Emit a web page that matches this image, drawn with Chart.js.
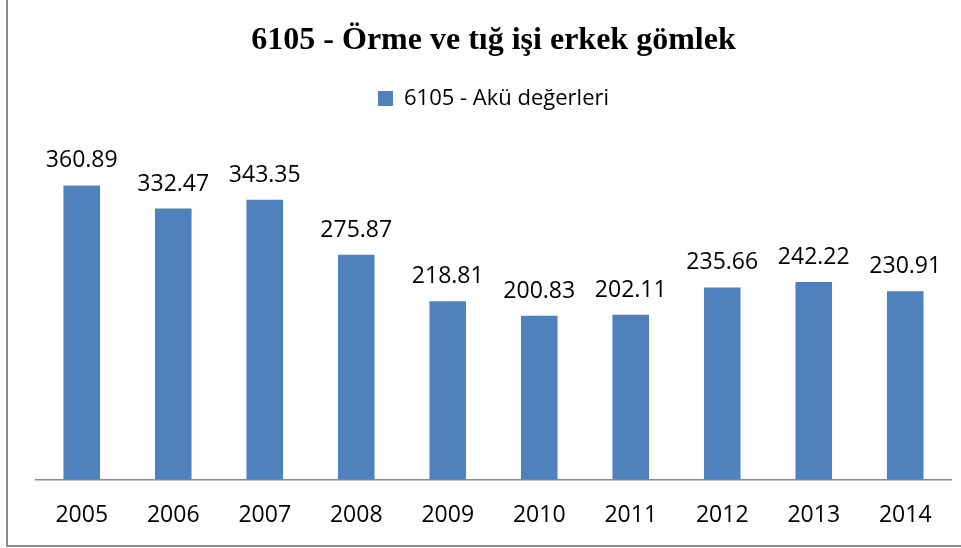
<!DOCTYPE html>
<html>
<head>
<meta charset="utf-8">
<script src="https://cdn.jsdelivr.net/npm/chart.js@4/dist/chart.umd.min.js"></script>
<style>
    body { margin: 0; background: #fff; }
    #frame {
        position: absolute; left: 6px; top: 0;
        width: 955px; height: 545px;
        border-left: 2px solid #8a8a8a;
        border-bottom: 2px solid #8a8a8a;
    }
    #chart { display: block; }
</style>
</head>
<body>
<div id="frame"><canvas id="chart" width="955" height="545"></canvas></div>
<script>
const years = ['2005','2006','2007','2008','2009','2010','2011','2012','2013','2014'];
const values = [360.89, 332.47, 343.35, 275.87, 218.81, 200.83, 202.11, 235.66, 242.22, 230.91];
const seriesName = '6105 - Akü değerleri';
const chartTitle = '6105 - Örme ve tığ işi erkek gömlek';

const barLabels = {
    id: 'barLabels',
    afterDatasetsDraw(chart) {
        const ctx = chart.ctx;
        ctx.save();
        ctx.font = '23px "Open Sans"';
        ctx.fillStyle = '#000';
        ctx.textAlign = 'center';
        ctx.textBaseline = 'alphabetic';
        chart.getDatasetMeta(0).data.forEach((bar, i) => {
            ctx.fillText(values[i].toFixed(2), bar.x, bar.y - 18);
        });
        ctx.restore();
    }
};

new Chart(document.getElementById('chart'), {
    type: 'bar',
    data: {
        labels: years,
        datasets: [{
            label: seriesName,
            data: values,
            backgroundColor: '#4f81bd',
            categoryPercentage: 1,
            barPercentage: 0.4
        }]
    },
    options: {
        responsive: false,
        animation: false,
        layout: { padding: { left: 28, right: 12, top: 0, bottom: -6 } },
        plugins: {
            title: {
                display: true,
                text: chartTitle,
                color: '#000',
                font: { family: '"Liberation Serif"', size: 32, weight: 'bold' },
                padding: { top: 22, bottom: 15 }
            },
            legend: {
                display: true,
                labels: {
                    color: '#000',
                    font: { family: '"Open Sans"', size: 22 },
                    boxWidth: 15,
                    boxHeight: 15,
                    padding: 12
                }
            },
            tooltip: { enabled: false }
        },
        scales: {
            x: {
                grid: { display: false, drawTicks: false },
                border: { display: true, color: '#8a8a8a', width: 1.5 },
                ticks: { color: '#000', font: { family: '"Open Sans"', size: 23 }, padding: 22 }
            },
            y: {
                display: false,
                min: 0,
                max: 442
            }
        }
    },
    plugins: [barLabels]
});
</script>
</body>
</html>
